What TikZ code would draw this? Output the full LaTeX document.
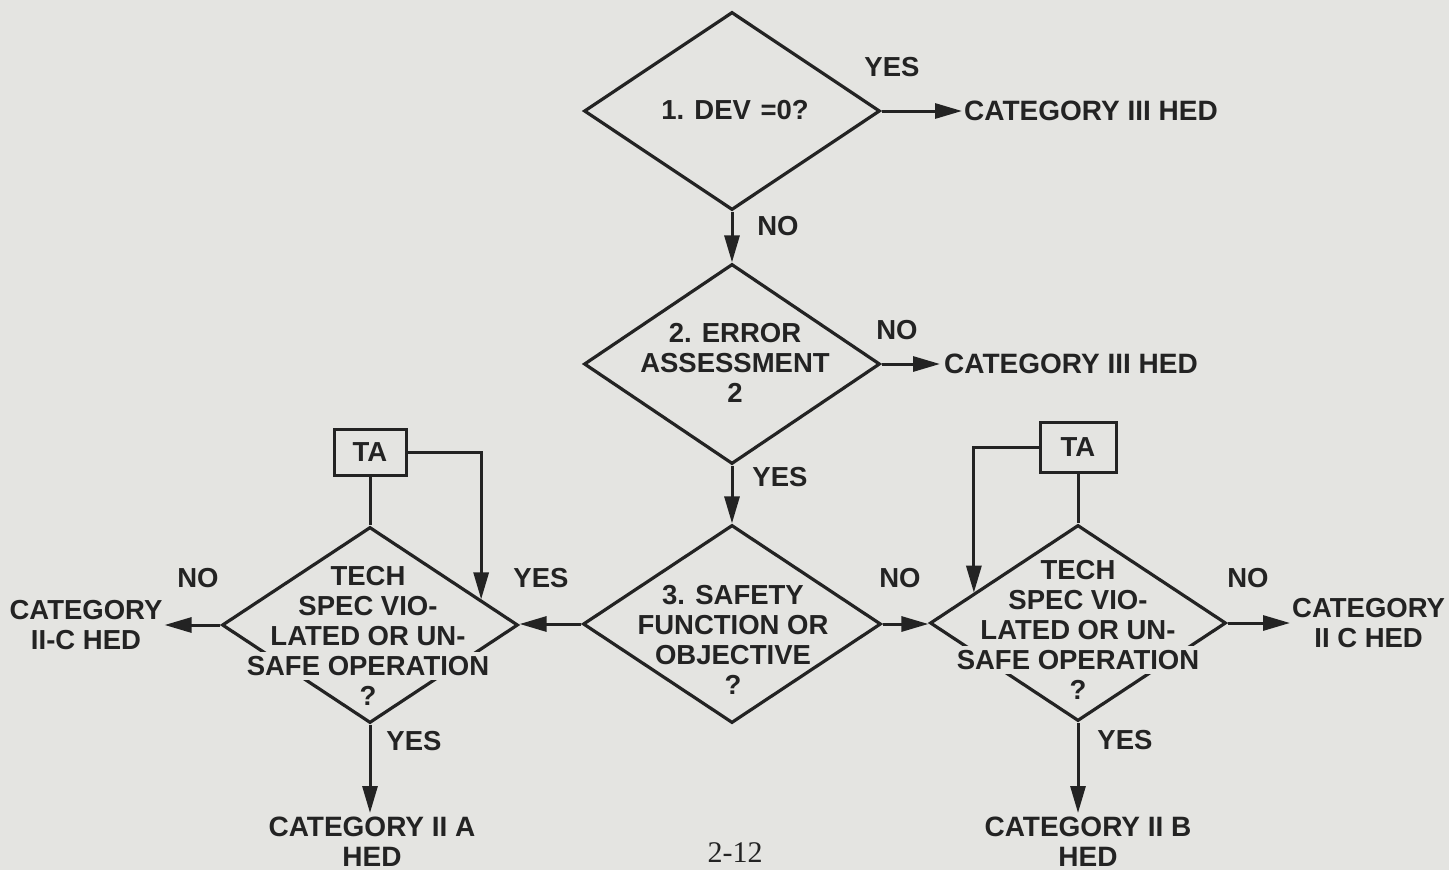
\documentclass[tikz,border=0pt]{standalone}
\usepackage{fontspec}
\setmainfont{Liberation Sans}
\newfontfamily\pagefont{Liberation Serif}
\usetikzlibrary{shapes.geometric,arrows.meta,calc}
\definecolor{paper}{RGB}{228,228,225}
\definecolor{ink}{RGB}{35,35,35}
\newcommand{\bgline}[1]{{\setlength{\fboxsep}{4pt}\colorbox{paper}{#1}}}
\tikzset{
  txt/.style={text=ink, font=\fontsize{27.5}{30}\selectfont\bfseries, inner sep=2pt},
  outtxt/.style={txt, font=\fontsize{28}{30}\selectfont\bfseries},
  dia/.style={draw=ink, line width=3.2pt, shape=diamond, inner sep=0pt},
  tabox/.style={txt, draw=ink, line width=3pt, inner sep=0pt},
  ln/.style={draw=ink, line width=3pt},
  arr/.style={ln, -{Triangle[length=27pt,width=15pt]}},
}
\begin{document}
\begin{tikzpicture}[x=1pt,y=-1pt]
\fill[paper] (0,0) rectangle (1449,870);
\useasboundingbox (0,0) rectangle (1449,870);

% decision diamonds
\node[dia, minimum width=296pt, minimum height=198pt] (d1) at (732,111) {};
\node[dia, minimum width=296pt, minimum height=200pt] (d2) at (732,364) {};
\node[dia, minimum width=298pt, minimum height=198pt] (d3) at (732,624) {};
\node[dia, minimum width=296pt, minimum height=196pt] (d4l) at (370,625) {};
\node[dia, minimum width=296pt, minimum height=196pt] (d4r) at (1078,623) {};

% texts inside diamonds
\node[txt] (t1) at (735,110) {1. DEV\hspace{0.35em}=0?};
\node[txt, align=center] (t2) at (735,363) {2. ERROR\\ASSESSMENT\\2};
\node[txt, align=center] (t3) at (733,640) {3. SAFETY\\FUNCTION OR\\OBJECTIVE\\?};
\node[txt, align=center, inner sep=0pt] (t4l) at (368,636) {\bgline{TECH}\\\bgline{SPEC VIO-}\\\bgline{LATED OR UN-}\\\bgline{SAFE OPERATION}\\\bgline{?}};
\node[txt, align=center, inner sep=0pt] (t4r) at (1078,630) {\bgline{TECH}\\\bgline{SPEC VIO-}\\\bgline{LATED OR UN-}\\\bgline{SAFE OPERATION}\\\bgline{?}};

% TA boxes
\node[tabox, minimum width=72pt, minimum height=46pt] (ta1) at (370,452) {TA};
\node[tabox, minimum width=76pt, minimum height=50pt] (ta2) at (1078,447) {TA};

% outcomes
\node[outtxt, anchor=west] (c1) at (962,111) {CATEGORY III HED};
\node[outtxt, anchor=west, inner sep=4pt] (c2) at (940,364) {CATEGORY III HED};
\node[txt, align=center] (c3) at (86,625) {CATEGORY\\II-C HED};
\node[txt, align=center, anchor=west] (c4) at (1290,623) {CATEGORY\\II C HED};
\node[outtxt, align=center, anchor=north, inner sep=4pt] (c5) at (372,813) {CATEGORY II A\\HED};
\node[outtxt, align=center, anchor=north, inner sep=4pt] (c6) at (1088,813) {CATEGORY II B\\HED};

% branch labels
\node[txt] (yes1) at (892,67) {YES};
\node[txt] (no1) at (778,226) {NO};
\node[txt] (no2) at (897,330) {NO};
\node[txt] (yes2) at (780,477) {YES};
\node[txt] (yes3) at (541,578) {YES};
\node[txt] (no3) at (900,578) {NO};
\node[txt] (no4) at (198,578) {NO};
\node[txt] (yes4) at (414,741) {YES};
\node[txt] (no5) at (1248,578) {NO};
\node[txt] (yes5) at (1125,740) {YES};

% page number
\node[text=ink, font=\pagefont\fontsize{30}{32}\selectfont, inner sep=0pt] (pg) at (735,853) {2-12};

% connectors
\draw[arr] (d1.east) -- (d1.east -| c1.west);
\draw[arr] (d1.south) -- (d2.north);
\draw[arr] (d2.east) -- (d2.east -| c2.west);
\draw[arr] (d2.south) -- (d3.north);
\draw[arr] (d3.west) -- (d3.west -| d4l.east);
\draw[arr] (d3.east) -- (d3.east -| d4r.west);
\draw[arr] (d4l.west) -- (d4l.west -| c3.east);
\draw[arr] (d4r.east) -- (d4r.east -| c4.west);
\draw[arr] (d4l.south) -- (d4l.south |- c5.north);
\draw[arr] (d4r.south) -- (d4r.south |- c6.north);

\coordinate (p1) at ($(d4l.north)!0.743!(d4l.east)$);
\coordinate (p2) at ($(d4r.north)!0.696!(d4r.west)$);
\draw[ln] (ta1.south) -- (d4l.north);
\draw[ln] (ta2.south) -- (d4r.north);
\draw[arr] (ta1.east) -| (p1);
\draw[arr] (ta2.west) -| (p2);
\end{tikzpicture}
\end{document}
